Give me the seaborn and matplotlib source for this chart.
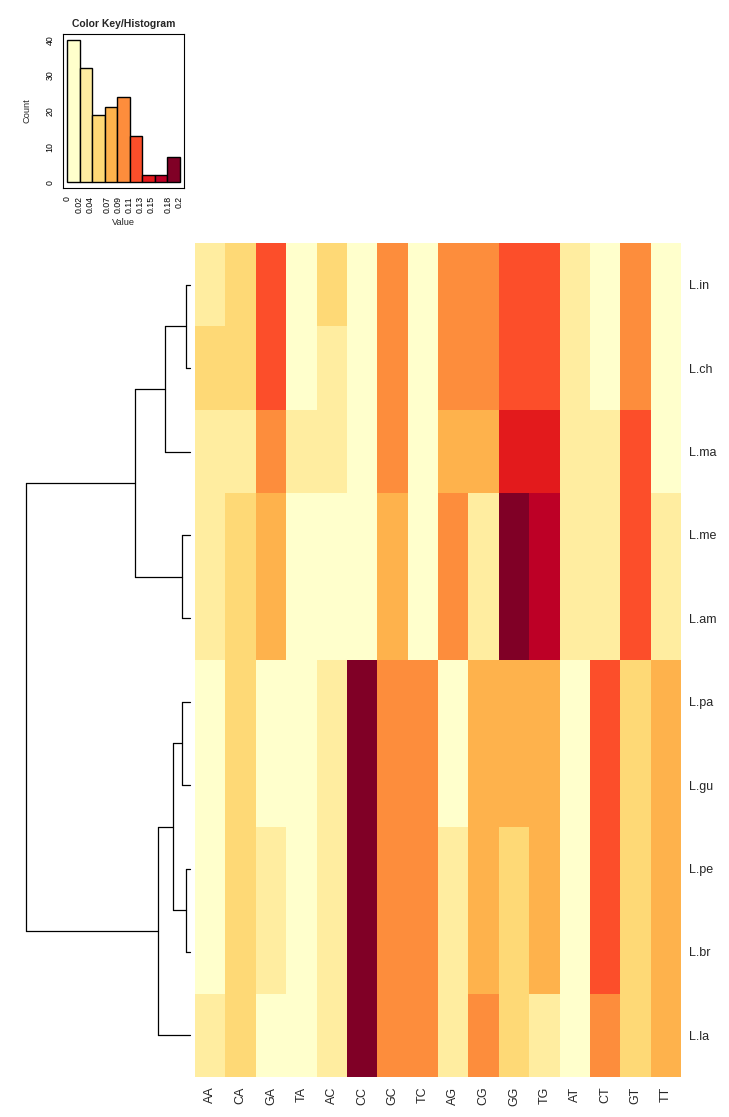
import matplotlib
matplotlib.use("Agg")
import matplotlib.pyplot as plt
import numpy as np
import pandas as pd
import seaborn as sns
from matplotlib.colors import ListedColormap, BoundaryNorm

# dinucleotide frequencies per species (rows in dendrogram order)
rows = ["L.in", "L.ch", "L.ma", "L.me", "L.am", "L.pa", "L.gu", "L.pe", "L.br", "L.la"]
cols = ["AA", "CA", "GA", "TA", "AC", "CC", "GC", "TC",
        "AG", "CG", "GG", "TG", "AT", "CT", "GT", "TT"]
values = [
    [0.036, 0.058, 0.121, 0.012, 0.050, 0.014, 0.097, 0.011, 0.101, 0.094, 0.127, 0.124, 0.031, 0.013, 0.099, 0.012],
    [0.047, 0.054, 0.118, 0.015, 0.042, 0.013, 0.095, 0.012, 0.104, 0.098, 0.126, 0.122, 0.034, 0.016, 0.093, 0.011],
    [0.038, 0.041, 0.092, 0.029, 0.035, 0.010, 0.096, 0.009, 0.081, 0.078, 0.147, 0.142, 0.033, 0.036, 0.118, 0.015],
    [0.037, 0.052, 0.083, 0.014, 0.011, 0.018, 0.079, 0.012, 0.095, 0.031, 0.196, 0.168, 0.027, 0.034, 0.116, 0.027],
    [0.039, 0.050, 0.086, 0.016, 0.012, 0.017, 0.076, 0.013, 0.093, 0.033, 0.192, 0.165, 0.026, 0.035, 0.119, 0.029],
    [0.016, 0.061, 0.013, 0.010, 0.025, 0.193, 0.104, 0.103, 0.019, 0.084, 0.077, 0.073, 0.012, 0.119, 0.062, 0.079],
    [0.017, 0.060, 0.015, 0.011, 0.026, 0.190, 0.101, 0.106, 0.020, 0.083, 0.075, 0.071, 0.013, 0.121, 0.058, 0.081],
    [0.014, 0.058, 0.027, 0.009, 0.031, 0.185, 0.102, 0.100, 0.024, 0.086, 0.064, 0.070, 0.010, 0.116, 0.057, 0.084],
    [0.015, 0.057, 0.029, 0.010, 0.030, 0.183, 0.105, 0.099, 0.025, 0.087, 0.066, 0.072, 0.011, 0.117, 0.055, 0.085],
    [0.030, 0.056, 0.019, 0.012, 0.034, 0.188, 0.098, 0.096, 0.036, 0.091, 0.055, 0.040, 0.014, 0.094, 0.063, 0.082],
]

# colour key breaks and tick labels
breaks = [0, 0.0222, 0.0444, 0.0667, 0.0889, 0.1111, 0.1333, 0.1556, 0.1778, 0.2]
key_ticks = [0, 0.02, 0.04, 0.07, 0.09, 0.11, 0.13, 0.15, 0.18, 0.2]
key_labels = ["0", "0.02", "0.04", "0.07", "0.09", "0.11", "0.13", "0.15", "0.18", "0.2"]
palette = ["#FFFFCC", "#FFEDA0", "#FED976", "#FEB24C", "#FD8D3C",
           "#FC4E2A", "#E31A1C", "#BD0026", "#800026"]

# row dendrogram: (left, right, height); ints refer to earlier merges
merges = [
    ("L.in", "L.ch", 0.0245),
    (0, "L.ma", 0.153),
    ("L.me", "L.am", 0.049),
    (1, 2, 0.337),
    ("L.pa", "L.gu", 0.049),
    ("L.pe", "L.br", 0.0245),
    (4, 5, 0.104),
    (6, "L.la", 0.196),
    (3, 7, 1.0),
]

sns.set_style("white")
plt.rcParams["font.family"] = ["Liberation Sans", "DejaVu Sans"]

df = pd.DataFrame(values, index=rows, columns=cols)
cmap = ListedColormap(palette)
norm = BoundaryNorm(breaks, cmap.N)

W, H = 729, 1117
fig = plt.figure(figsize=(W / 100, H / 100), dpi=100)


def box(l, t, r, b):
    return [l / W, 1 - b / H, (r - l) / W, (b - t) / H]


# heatmap
ax_heat = fig.add_axes(box(195, 243, 681, 1077))
sns.heatmap(df, cmap=cmap, norm=norm, cbar=False, ax=ax_heat, linewidths=0)
ax_heat.yaxis.tick_right()
ax_heat.set_yticks(np.arange(len(rows)) + 0.5)
ax_heat.set_yticklabels(rows, rotation=0, fontsize=9)
ax_heat.set_xticklabels(cols, rotation=90, fontsize=9)
ax_heat.tick_params(axis="y", length=0, pad=6)
ax_heat.tick_params(axis="x", length=0, pad=7)
ax_heat.set_xlabel("")
ax_heat.set_ylabel("")

# row dendrogram
ax_den = fig.add_axes(box(26, 243, 190, 1077))
ax_den.set_xlim(1.0, 0)
ax_den.set_ylim(len(rows), 0)
ax_den.axis("off")
pos = {name: (0.0, i + 0.5) for i, name in enumerate(rows)}
nodes = []
for left, right, h in merges:
    pts = []
    for child in (left, right):
        ch, cy = nodes[child] if isinstance(child, int) else pos[child]
        ax_den.plot([ch, h], [cy, cy], color="black", lw=0.9, clip_on=False)
        pts.append(cy)
    ax_den.plot([h, h], pts, color="black", lw=0.9, clip_on=False)
    nodes.append((h, sum(pts) / 2))

# colour key / histogram
ax_key = fig.add_axes(box(63, 34, 184, 188))
sns.histplot(x=df.values.ravel(), bins=breaks, ax=ax_key, stat="count",
             edgecolor="black", linewidth=1.0, alpha=1)
for patch, c in zip(ax_key.patches, palette):
    patch.set_facecolor(c)
ax_key.set_xlim(-0.008, 0.208)
ax_key.set_ylim(-1.6, 41.6)
ax_key.set_xticks(key_ticks)
ax_key.set_xticklabels(key_labels, rotation=90, fontsize=6.3)
ax_key.set_yticks([0, 10, 20, 30, 40])
ax_key.set_yticklabels(["0", "10", "20", "30", "40"], rotation=90, va="center", fontsize=6.3)
ax_key.tick_params(direction="out", length=4, width=0.7, pad=2, colors="black")
for s in ax_key.spines.values():
    s.set_color("black")
    s.set_linewidth(0.8)
ax_key.set_xlabel("Value", fontsize=6.7, labelpad=3)
ax_key.set_ylabel("Count", fontsize=6.7, labelpad=10)
ax_key.set_title("Color Key/Histogram", fontsize=7.5, fontweight="bold", pad=5)

fig.savefig("out.png", dpi=100)
